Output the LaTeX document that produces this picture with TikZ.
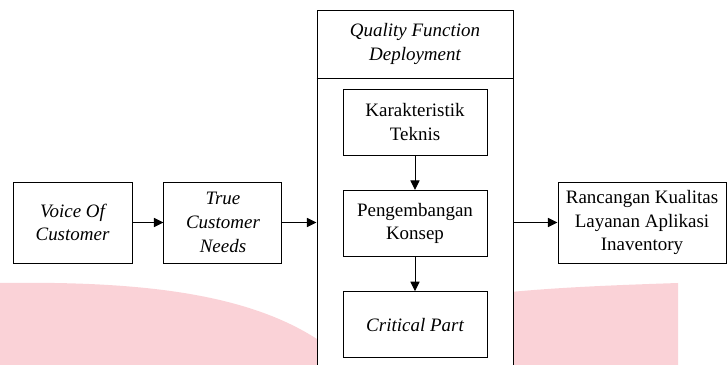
\documentclass[tikz,border=0pt]{standalone}
\usepackage{fontspec}
\setmainfont{Liberation Serif}
\usetikzlibrary{arrows.meta}
\usetikzlibrary{positioning}
\definecolor{wmpink}{RGB}{250,210,215}
\tikzset{>={Triangle[length=2.4mm,width=2.3mm]}}

\begin{document}
\begin{tikzpicture}[every node/.style={font=\fontsize{13.5}{16.8}\selectfont},
		miring/.style={font=\fontsize{13.5}{16.8}\selectfont\itshape},
		blok/.style={draw, rectangle, align=center, inner sep=0pt,
			line width=0.7pt, fill=white},
		line/.style={draw, ->, line width=0.7pt}]
		\useasboundingbox (0,0) rectangle (18.2,9.125);
		\clip (0,0) rectangle (18.2,9.125);
		%% watermark
		\fill [wmpink] (0,2.05) .. controls (3.5,2.1) and (6.2,1.8) .. (8,0.6) -- (8,0) -- (0,0) -- cycle;
		\fill [wmpink] (12.5,1.8) .. controls (14,1.95) and (15.5,2.0) .. (16.95,2.05) -- (16.95,0) -- (12.5,0) -- cycle;
		%% Blocks
		\node [blok, miring, minimum width=2.975cm, minimum height=2.025cm] (voc) at (1.8125,3.5625) {Voice Of\\Customer};
		\node [blok, miring, minimum width=2.95cm, minimum height=2.025cm, right=0.775cm of voc] (tcn) {True\\Customer\\Needs};
		\node [blok, minimum width=4.9cm, minimum height=9.5cm, anchor=north] (qfd) at (10.375,8.875) {};
		\node [miring, align=center] (judul) at (10.375,8.025) {Quality Function\\Deployment};
		\coordinate (garis) at (0,7.175);
		\draw [line width=0.7pt] (qfd.west |- garis) -- (qfd.east |- garis);
		\node [blok, minimum width=3.6cm, minimum height=1.65cm] (karak) at (10.375,6.075) {Karakteristik\\Teknis};
		\node [blok, minimum width=3.6cm, minimum height=1.65cm, below=0.86cm of karak] (konsep) {Pengembangan\\Konsep};
		\node [blok, miring, minimum width=3.6cm, minimum height=1.65cm, below=0.86cm of konsep] (crit) {Critical Part};
		\node [blok, minimum width=4.2cm, minimum height=2.025cm] (rancang) at (16.05,3.5625) {Rancangan Kualitas\\Layanan Aplikasi\\Inaventory};
		%% Links
		\path [line] (voc) -- (tcn);
		\path [line] (tcn) -- (tcn -| qfd.west);
		\path [line] (karak) -- (konsep);
		\path [line] (konsep) -- (crit);
		\path [line] (qfd.east |- rancang) -- (rancang);
\end{tikzpicture}
\end{document}
